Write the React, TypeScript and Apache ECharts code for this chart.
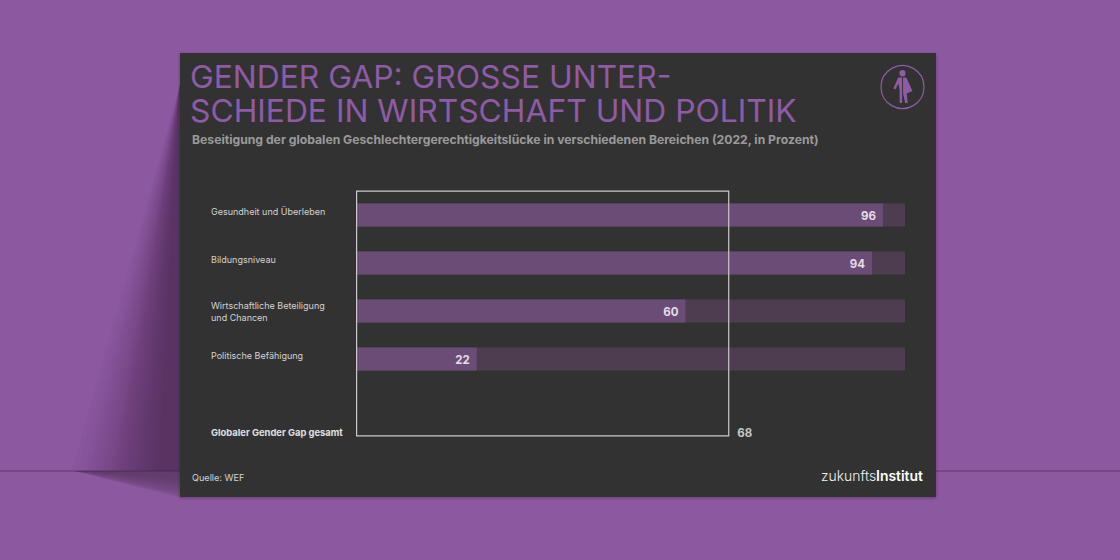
import React, { useEffect, useRef } from "react";
import * as echarts from "echarts";

const categories = ["Gesundheit und Überleben", "Bildungsniveau", "Wirtschaftliche Beteiligung\nund Chancen", "Politische Befähigung"];
const values = [96, 94, 60, 22];
const totalCategory = ["Globaler Gender Gap gesamt"];
const totalValue = [68];
const titleLines = ["GENDER GAP: GROSSE UNTER-", "SCHIEDE IN WIRTSCHAFT UND POLITIK"];
const subtitle = "Beseitigung der globalen Geschlechtergerechtigkeitslücke in verschiedenen Bereichen (2022, in Prozent)";
const source = "Quelle: WEF";
const FONT = "Inter, 'Noto Sans', sans-serif";

const person =
  "M10 0a3.2 3.2 0 1 1 0 6.4a3.2 3.2 0 1 1 0-6.4ZM9.6 7.5H5.5L0.4 18.5L2.4 19.5L5.8 13.5L7 20V33H9.6ZM10.6 7.5H14L20.5 21L14.5 23.5L15.5 33H12.8L10.6 23.5Z";
echarts.graphic.registerShape("personIcon", echarts.graphic.extendPath(person, {} as any) as any);

const SHADE = "rgba(50,30,60,0.03)";
const SHADE2 = "rgba(50,30,60,0.05)";
const wallFan = [72, 78, 84, 89, 94, 98, 102, 106, 110, 113, 116, 119, 122, 125, 128, 131, 134, 137, 140, 143, 146, 149, 152, 155, 158];
const floorFan = [478, 481, 484, 486, 488, 490, 492, 494, 495, 496, 497, 498];

export default function App() {
  const ref = useRef<HTMLDivElement>(null);
  useEffect(() => {
    const chart = echarts.init(ref.current!, undefined, { renderer: "svg" });
    chart.setOption({
      animation: false,
      backgroundColor: "#8c58a0",
      grid: [
        { left: 356, top: 191, width: 549, height: 192 },
        { left: 356, top: 190.5, width: 549, height: 246 },
        { left: 356, top: 420, width: 549, height: 24 },
      ],
      xAxis: [
        { type: "value", gridIndex: 0, min: 0, max: 100, show: false },
        { type: "value", gridIndex: 1, min: 0, max: 100, show: false },
        { type: "value", gridIndex: 2, min: 0, max: 100, show: false },
      ],
      yAxis: [
        {
          type: "category", gridIndex: 0, inverse: true,
          data: categories.map((c) => ({
            value: c,
            textStyle: c.includes("\n")
              ? { align: "left", verticalAlign: "middle" }
              : { align: "left", verticalAlign: "bottom", lineHeight: 8 },
          })),
          axisLine: { show: false }, axisTick: { show: false },
          axisLabel: { color: "#d4d4d4", fontFamily: FONT, fontSize: 9, lineHeight: 12, margin: 145 },
        },
        { type: "category", gridIndex: 1, data: [""], show: false },
        {
          type: "category", gridIndex: 2, data: totalCategory.map((c) => ({ value: c, textStyle: { align: "left" } })),
          axisLine: { show: false }, axisTick: { show: false },
          axisLabel: { color: "#e0e0e0", fontFamily: FONT, fontSize: 9.4, fontWeight: 700, margin: 145 },
        },
      ],
      series: [
        {
          type: "bar", xAxisIndex: 0, yAxisIndex: 0, data: values, barWidth: 23,
          showBackground: true, backgroundStyle: { color: "#4e3c50" },
          itemStyle: { color: "#6b4c76" },
          label: { show: true, position: "insideRight", distance: 7, offset: [0, 1], color: "#e4dce6", fontFamily: FONT, fontWeight: 700, fontSize: 11.5 },
          z: 2,
        },
        {
          type: "bar", xAxisIndex: 1, yAxisIndex: 1, data: totalValue, barWidth: "100%",
          itemStyle: { color: "rgba(0,0,0,0)", borderColor: "#c9c9c9", borderWidth: 1.2 },
          z: 3,
        },
        {
          type: "bar", xAxisIndex: 2, yAxisIndex: 2, data: totalValue, barWidth: "100%",
          itemStyle: { color: "rgba(0,0,0,0)" },
          label: { show: true, position: "right", distance: 8, offset: [0, 1], color: "#c8c8c8", fontFamily: FONT, fontWeight: 700, fontSize: 11.5 },
          z: 3,
        },
      ],
      graphic: [
        ...wallFan.map((x) => ({ type: "polygon", z: -10, shape: { points: [[180, 85], [x, 471], [180, 471]] }, style: { fill: SHADE } })),
        ...floorFan.map((y) => ({ type: "polygon", z: -10, shape: { points: [[75, 471], [180, y], [180, 471]] }, style: { fill: SHADE2 } })),
        { type: "rect", z: -9, shape: { x: 0, y: 470, width: 1120, height: 2 }, style: { fill: "rgba(60,35,70,0.3)" } },
        { type: "rect", z: -8, shape: { x: 180, y: 53, width: 756, height: 444 }, style: { fill: "#333333", shadowBlur: 3, shadowColor: "rgba(40,20,50,0.4)", shadowOffsetY: 1 } },
        { type: "text", z: 5, x: 190, y: 60, style: { text: titleLines.join("\n"), fill: "#8f5aa6", font: `400 31.8px ${FONT}`, lineHeight: 33.5 } },
        { type: "text", z: 5, x: 192, y: 133, style: { text: subtitle, fill: "#9a9a9a", font: `700 12.2px ${FONT}` } },
        { type: "text", z: 5, x: 192, y: 473, style: { text: source, fill: "#d4d4d4", font: `400 9.1px ${FONT}` } },
        {
          type: "text", z: 5, x: 821, y: 469,
          style: {
            text: "{a|zukunfts}{b|Institut}",
            rich: {
              a: { fill: "#f2f2f2", font: `300 13.9px ${FONT}` },
              b: { fill: "#ffffff", font: `600 13.9px ${FONT}` },
            },
          } as any,
        },
        { type: "circle", z: 5, shape: { cx: 902.5, cy: 87, r: 21.5 }, style: { fill: "none", stroke: "#8f5aa6", lineWidth: 1.2 } },
        { type: "personIcon", z: 5, x: 893, y: 70, scaleX: 0.95, scaleY: 1, style: { fill: "#8f5aa6" } },
      ],
    });
    return () => chart.dispose();
  }, []);
  return <div ref={ref} style={{ position: "fixed", left: 0, top: 0, width: 1120, height: 560 }} />;
}
